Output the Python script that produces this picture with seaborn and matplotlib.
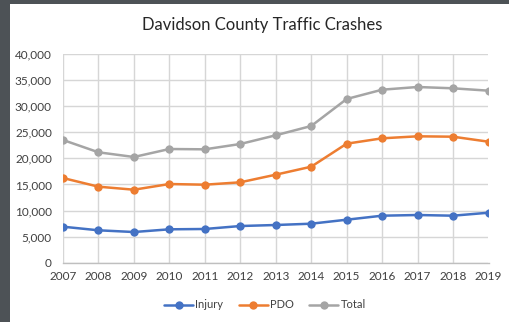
import matplotlib
matplotlib.use("Agg")
import matplotlib.pyplot as plt
import seaborn as sns
import pandas as pd
from matplotlib.patches import Rectangle
from matplotlib.ticker import FuncFormatter

years = [2007, 2008, 2009, 2010, 2011, 2012, 2013, 2014, 2015, 2016, 2017, 2018, 2019]
injury = [6900, 6210, 5880, 6400, 6460, 7030, 7225, 7475, 8240, 9010, 9140, 9010, 9580]
pdo = [16230, 14570, 13990, 15080, 14950, 15410, 16870, 18400, 22810, 23840, 24225, 24150, 23190]
total = [23520, 21160, 20260, 21790, 21730, 22750, 24420, 26200, 31375, 33160, 33675, 33425, 32970]
series_names = ["Injury", "PDO", "Total"]
series_colors = ["#4472C4", "#ED7D31", "#A5A5A5"]

df = pd.DataFrame({"Year": years, "Injury": injury, "PDO": pdo, "Total": total})
long = df.melt(id_vars="Year", var_name="Series", value_name="Crashes")

sns.set_style("white")
plt.rcParams["font.family"] = ["Lato", "DejaVu Sans"]

fig = plt.figure(figsize=(5.10, 3.22), dpi=100)
fig.patch.set_facecolor("white")

# dark window frame along the left and top edges
fig.patches.append(Rectangle((0, 0), 10 / 510, 1, transform=fig.transFigure,
                             facecolor="#4d5256", edgecolor="none", zorder=0))
fig.patches.append(Rectangle((0, 1 - 3.5 / 322), 1, 3.5 / 322, transform=fig.transFigure,
                             facecolor="#4d5256", edgecolor="none", zorder=0))

ax = fig.add_axes([63 / 510, 1 - 262.7 / 322, (488.5 - 63) / 510, (262.7 - 54) / 322])
sns.lineplot(data=long, x="Year", y="Crashes", hue="Series", hue_order=series_names,
             palette=series_colors, marker="o", markersize=6, markeredgewidth=0,
             linewidth=1.8, ax=ax, legend=False, zorder=3)

ax.set_xlim(years[0], years[-1])
ax.set_ylim(0, 40000)
ax.set_xticks(years)
ax.set_yticks(range(0, 40001, 5000))
ax.yaxis.set_major_formatter(FuncFormatter(lambda v, p: f"{int(v):,}"))
ax.grid(True, color="#d6d6d6", linewidth=1.0)
ax.set_axisbelow(True)
for side in ["top", "right", "left"]:
    ax.spines[side].set_visible(False)
ax.spines["bottom"].set_color("#bfbfbf")
ax.spines["bottom"].set_linewidth(1.0)
ax.tick_params(axis="both", length=0, labelsize=8.5, colors="#404040")
ax.tick_params(axis="x", pad=6)
ax.tick_params(axis="y", pad=8)
ax.set_xlabel("")
ax.set_ylabel("")
ax.set_facecolor("white")

fig.text(262 / 510, 1 - 25 / 322, "Davidson County Traffic Crashes", ha="center", va="center",
         fontsize=12, color="#262626")

handles = [plt.Line2D([], [], color=c, marker="o", markersize=6, markeredgewidth=0, linewidth=1.8)
           for c in series_colors]
fig.legend(handles, series_names, loc="center", bbox_to_anchor=(265 / 510, 1 - 305 / 322),
           ncol=3, frameon=False, fontsize=8, handlelength=2.6, handletextpad=0.2,
           columnspacing=1.4, labelcolor="#404040")

fig.savefig("out.png", dpi=100)
